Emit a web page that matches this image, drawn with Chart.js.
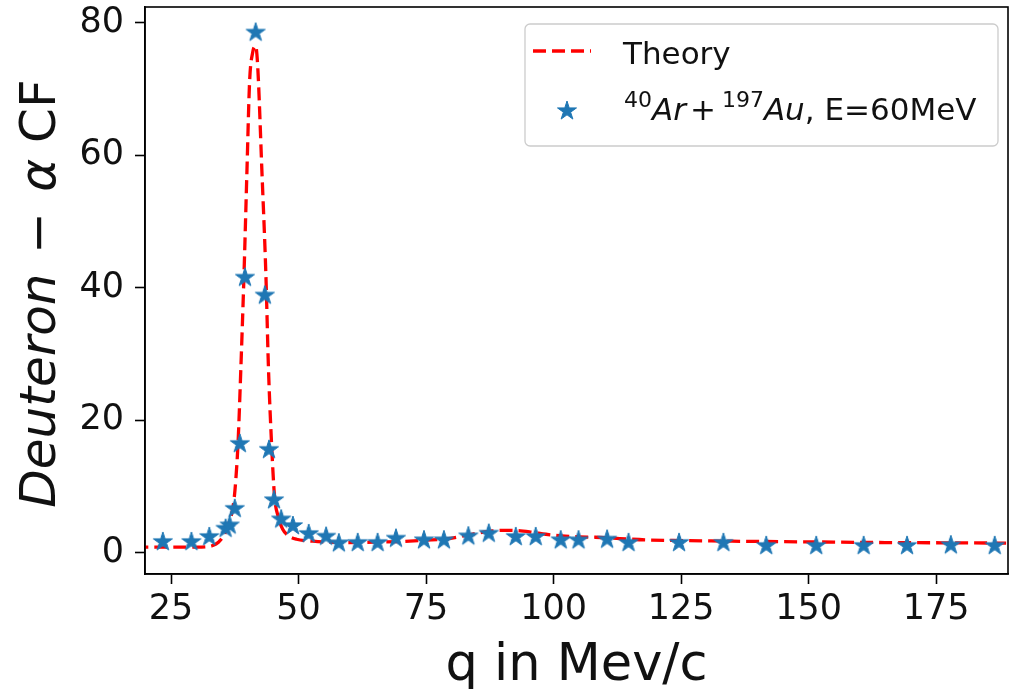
<!DOCTYPE html>
<html>
<head>
<meta charset="utf-8">
<script src="https://cdn.jsdelivr.net/npm/chart.js@4.4.1/dist/chart.umd.min.js"></script>
<style>
  html, body { margin: 0; padding: 0; background: #fff; }
</style>
</head>
<body>
<canvas id="myChart" width="1013" height="689"></canvas>
<script>
// measured points
var q_meas = [23.4, 29.0, 32.5, 35.7, 36.5, 37.5, 38.5, 39.5, 41.6, 43.4, 44.2, 45.2, 46.6, 48.9,
    52.0, 55.4, 57.9, 61.6, 65.5, 69.1, 74.6, 78.5, 83.3, 87.3, 92.6, 96.5, 101.4, 104.9,
    110.5, 114.7, 124.6, 133.3, 141.7, 151.5, 160.8, 169.3, 177.9, 186.5];
var cf_meas = [1.8, 1.8, 2.55, 3.8, 4.3, 6.8, 16.6, 41.7, 78.7, 39.0, 15.7, 8.1, 5.2, 4.2,
    3.0, 2.6, 1.6, 1.65, 1.65, 2.3, 2.05, 2.05, 2.65, 3.05, 2.55, 2.55, 2.05, 2.05,
    2.15, 1.65, 1.65, 1.65, 1.2, 1.2, 1.2, 1.2, 1.3, 1.2];

// theory curve
var q_theory = [18, 25, 30, 32, 33.2, 34.3, 35.2, 36.3, 37.3, 37.7, 38.15, 38.7, 39.3, 39.9, 40.4,
    41.0, 41.6, 42.0, 42.8, 43.6, 44.1, 44.7, 45.3, 46.0, 46.9, 48.0, 49.6, 52.8, 56, 60, 65,
    70, 75, 79, 82, 85.4, 88, 90.6, 93, 95.8, 98.5, 101.6, 105, 108.2, 113, 118, 125, 135,
    150, 165, 180, 191];
var cf_theory = [0.85, 0.85, 0.85, 0.9, 1.1, 1.6, 2.45, 4.3, 7.7, 11, 16.7, 28, 41.8, 58, 71,
    75.5, 76.5, 73.4, 58, 42, 28, 16.7, 8.5, 5.5, 3.55, 2.6, 2.05, 1.75, 1.6, 1.55, 1.6,
    1.7, 1.9, 2.1, 2.5, 3.0, 3.3, 3.4, 3.35, 3.1, 2.8, 2.55, 2.4, 2.35, 2.15, 1.95, 1.85, 1.75,
    1.65, 1.55, 1.5, 1.45];

var xTicks = [25, 50, 75, 100, 125, 150, 175];
var yTicks = [0, 20, 40, 60, 80];

var xTitle = 'q in Mev/c';
var yTitle = [['Deuteron', 'i'], [' \u2212 ', 'n'], ['\u03b1', 'i'], [' CF', 'n']];
var labelTheory = 'Theory';
var labelMeas = [['40', 's'], ['Ar', 'i'], ['+', 'n'], ['197', 's'], ['Au', 'i'], [', E=60MeV', 'n']];

var FONT = '"DejaVu Sans"';
var BLUE = '#1f77b4';
var RED = '#ff0000';
var INK = '#111111';

// filled five point star, like the matplotlib '*' marker
function makeStar(r) {
    var c = document.createElement('canvas');
    c.width = c.height = Math.ceil(r * 2 + 4);
    var g = c.getContext('2d');
    var cx = c.width / 2, cy = c.height / 2 + r * 0.1;
    g.beginPath();
    for (var i = 0; i < 10; i++) {
        var rr = i % 2 === 0 ? r : r * 0.381966;
        var a = -Math.PI / 2 + i * Math.PI / 5;
        g.lineTo(cx + rr * Math.cos(a), cy + rr * Math.sin(a));
    }
    g.closePath();
    g.fillStyle = BLUE;
    g.fill();
    g.strokeStyle = BLUE;
    g.lineWidth = 1;
    g.stroke();
    return c;
}
var star = makeStar(10);

function toXY(xs, ys) {
    return xs.map(function (v, i) { return { x: v, y: ys[i] }; });
}

// draw a run of text pieces: i = italic, s = superscript, n = normal
function drawSegs(ctx, segs, size, x, y, measureOnly, opGap) {
    segs.forEach(function (s) {
        var f, dy = 0, txt = s[0];
        if (s[1] === 'i') f = 'italic ' + size + 'px ' + FONT;
        else if (s[1] === 's') { f = Math.round(size * 0.7) + 'px ' + FONT; dy = -size * 0.42; }
        else f = size + 'px ' + FONT;
        ctx.font = f;
        var w = ctx.measureText(txt).width;
        var isOp = txt.trim() === '+' || txt.trim() === '\u2212';
        if (isOp) x += opGap[0];
        if (!measureOnly) ctx.fillText(txt, x, y + dy);
        x += w;
        if (isOp) x += opGap[1];
    });
    return x;
}

var decor = {
    id: 'decor',
    afterDatasetsDraw: function (chart) {
        var ctx = chart.ctx, a = chart.chartArea;
        ctx.save();
        // frame (all four spines)
        ctx.strokeStyle = '#000';
        ctx.lineWidth = 1.6;
        ctx.strokeRect(a.left, a.top, a.right - a.left, a.bottom - a.top);

        // legend box
        var bx = 525, by = 24, bw = 473, bh = 122, r = 5;
        ctx.beginPath();
        ctx.moveTo(bx + r, by);
        ctx.arcTo(bx + bw, by, bx + bw, by + bh, r);
        ctx.arcTo(bx + bw, by + bh, bx, by + bh, r);
        ctx.arcTo(bx, by + bh, bx, by, r);
        ctx.arcTo(bx, by, bx + bw, by, r);
        ctx.closePath();
        ctx.fillStyle = 'rgba(255,255,255,0.8)';
        ctx.fill();
        ctx.strokeStyle = '#cccccc';
        ctx.lineWidth = 1.3;
        ctx.stroke();

        // legend entry: theory line
        ctx.beginPath();
        ctx.setLineDash([13, 6]);
        ctx.strokeStyle = RED;
        ctx.lineWidth = 3.3;
        ctx.moveTo(533, 51);
        ctx.lineTo(591, 51);
        ctx.stroke();
        ctx.setLineDash([]);

        // legend entry: star marker
        ctx.drawImage(star, 567 - star.width / 2, 110 - star.height / 2);

        ctx.fillStyle = INK;
        ctx.textBaseline = 'alphabetic';
        ctx.textAlign = 'left';
        ctx.font = '31px ' + FONT;
        ctx.fillText(labelTheory, 623, 64);
        drawSegs(ctx, labelMeas, 31, 624, 120, false, [4, 6]);
        ctx.restore();
    },
    afterDraw: function (chart) {
        var ctx = chart.ctx, a = chart.chartArea;
        ctx.save();
        ctx.fillStyle = INK;
        ctx.textBaseline = 'alphabetic';
        // x axis title
        ctx.textAlign = 'center';
        ctx.font = '51px ' + FONT;
        ctx.fillText(xTitle, (a.left + a.right) / 2, 680);
        // y axis title, mixed italic / upright
        ctx.textAlign = 'left';
        var w = drawSegs(ctx, yTitle, 50, 0, 0, true, [4, 4]);
        ctx.translate(55, (a.top + a.bottom) / 2 + 3);
        ctx.rotate(-Math.PI / 2);
        drawSegs(ctx, yTitle, 50, -w / 2, 0, false, [4, 4]);
        ctx.restore();
    }
};

const ctx = document.getElementById('myChart').getContext('2d');
const myChart = new Chart(ctx, {
    type: 'scatter',
    data: {
        datasets: [{
            type: 'line',
            label: labelTheory,
            data: toXY(q_theory, cf_theory),
            borderColor: RED,
            borderWidth: 3.3,
            borderDash: [13, 6],
            pointRadius: 0,
            fill: false,
            cubicInterpolationMode: 'monotone',
            order: 1
        }, {
            label: 'measured',
            data: toXY(q_meas, cf_meas),
            pointStyle: star,
            backgroundColor: BLUE,
            borderColor: BLUE,
            order: 0
        }]
    },
    options: {
        responsive: false,
        maintainAspectRatio: false,
        devicePixelRatio: 1,
        animation: false,
        layout: { padding: { top: 7, right: 2, left: 0, bottom: 0 } },
        plugins: {
            legend: { display: false },
            tooltip: { enabled: false }
        },
        scales: {
            x: {
                type: 'linear',
                min: 19.9,
                max: 189.1,
                afterBuildTicks: function (s) { s.ticks = xTicks.map(function (v) { return { value: v }; }); },
                afterFit: function (s) { s.height = 115; s.paddingLeft = 0; s.paddingRight = 0; },
                ticks: {
                    font: { family: 'DejaVu Sans', size: 35 },
                    color: INK,
                    padding: 5,
                    maxRotation: 0,
                    autoSkip: false
                },
                grid: { drawOnChartArea: false, tickLength: 10, tickWidth: 1.6, tickColor: '#000' },
                border: { color: '#000', width: 1.6 }
            },
            y: {
                type: 'linear',
                min: -3.2,
                max: 82.4,
                afterBuildTicks: function (s) { s.ticks = yTicks.map(function (v) { return { value: v }; }); },
                afterFit: function (s) { s.width = 145; s.paddingTop = 0; s.paddingBottom = 0; },
                ticks: {
                    font: { family: 'DejaVu Sans', size: 35 },
                    color: INK,
                    padding: 11
                },
                grid: { drawOnChartArea: false, tickLength: 10, tickWidth: 1.6, tickColor: '#000' },
                border: { color: '#000', width: 1.6 }
            }
        }
    },
    plugins: [decor]
});
</script>
</body>
</html>
